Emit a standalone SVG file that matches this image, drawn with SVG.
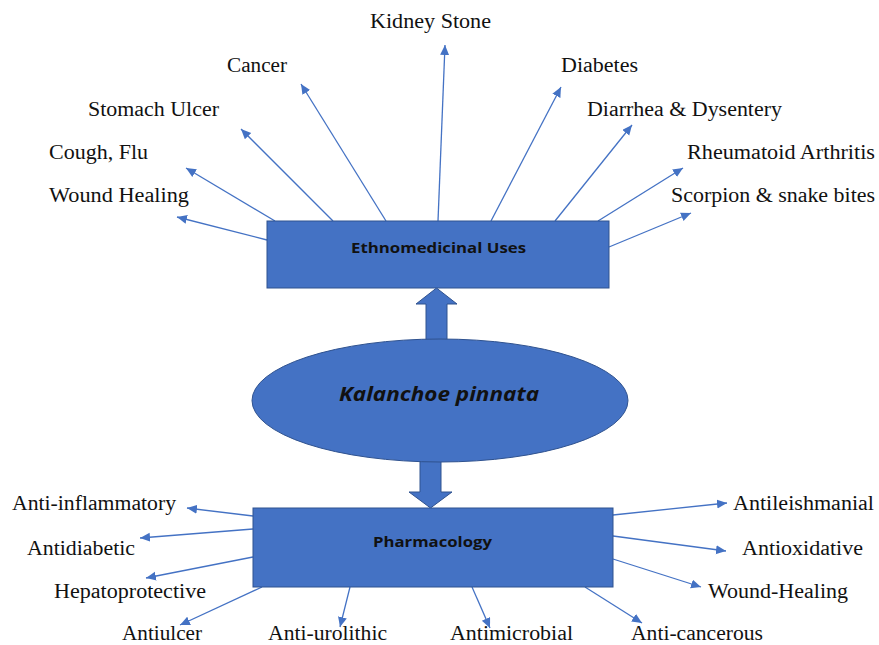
<svg xmlns="http://www.w3.org/2000/svg" width="879" height="645" viewBox="0 0 879 645">
<style>
.box{fill:#4472C4;stroke:#2F528F;stroke-width:1}
.lbl{font-family:"Liberation Serif","Times New Roman",serif;font-size:20px;fill:#111}
.ttl{font-family:"Open Sans","Liberation Sans",sans-serif;font-weight:bold;font-size:15px;fill:#111}
.con line{stroke:#4472C4;stroke-width:1.3;marker-end:url(#ah)}
</style>
<defs>
<marker id="ah" markerUnits="userSpaceOnUse" markerWidth="12" markerHeight="10" refX="10" refY="4.5" orient="auto">
<path d="M0,0 L10,4.5 L0,9 Z" fill="#4472C4"/>
</marker>
</defs>
<rect width="879" height="645" fill="#fff"/>
<g class="con" id="connectors">
<line x1="267" y1="240" x2="177" y2="217"/>
<line x1="275" y1="221" x2="186" y2="168"/>
<line x1="333" y1="221" x2="241" y2="129"/>
<line x1="386" y1="221" x2="301" y2="84"/>
<line x1="438" y1="221" x2="445" y2="45"/>
<line x1="491" y1="221" x2="561" y2="87"/>
<line x1="555" y1="221" x2="632" y2="125"/>
<line x1="598" y1="221" x2="683" y2="168"/>
<line x1="609" y1="247" x2="691" y2="213"/>
<line x1="253" y1="516" x2="187" y2="508"/>
<line x1="253" y1="529" x2="140" y2="538"/>
<line x1="253" y1="557" x2="146" y2="578"/>
<line x1="262" y1="587" x2="180" y2="625"/>
<line x1="350" y1="587" x2="340" y2="627"/>
<line x1="472" y1="587" x2="490" y2="628"/>
<line x1="585" y1="587" x2="642" y2="623"/>
<line x1="613" y1="515" x2="727" y2="503"/>
<line x1="613" y1="536" x2="726" y2="551"/>
<line x1="613" y1="559" x2="701" y2="587"/>
</g>
<g id="up-arrow">
<polygon class="box" points="436.5,288 457,304 447,304 447,341 426,341 426,304 416,304"/>
</g>
<g id="down-arrow">
<polygon class="box" points="420,461 441,461 441,492 452,492 430.5,508 409,492 420,492"/>
</g>
<g id="ethnomedicinal">
<rect class="box" x="267" y="221" width="342" height="67"/>
<text class="ttl" x="438.5" y="253" text-anchor="middle" textLength="175" lengthAdjust="spacingAndGlyphs">Ethnomedicinal Uses</text>
</g>
<g id="kalanchoe">
<ellipse class="box" cx="440" cy="400.5" rx="188" ry="61.5"/>
<text class="ttl" x="439" y="401" text-anchor="middle" font-style="italic" style="font-size:20px" textLength="200" lengthAdjust="spacingAndGlyphs">Kalanchoe pinnata</text>
</g>
<g id="pharmacology">
<rect class="box" x="253" y="508" width="360" height="79"/>
<text class="ttl" x="432.5" y="547" text-anchor="middle" textLength="119" lengthAdjust="spacingAndGlyphs">Pharmacology</text>
</g>
<g id="top-labels">
<text class="lbl" x="370" y="28" textLength="121" lengthAdjust="spacingAndGlyphs">Kidney Stone</text>
<text class="lbl" x="227" y="72" textLength="60" lengthAdjust="spacingAndGlyphs">Cancer</text>
<text class="lbl" x="88" y="116" textLength="131" lengthAdjust="spacingAndGlyphs">Stomach Ulcer</text>
<text class="lbl" x="49" y="159" textLength="99" lengthAdjust="spacingAndGlyphs">Cough, Flu</text>
<text class="lbl" x="49" y="202" textLength="140" lengthAdjust="spacingAndGlyphs">Wound Healing</text>
<text class="lbl" x="561" y="72" textLength="77" lengthAdjust="spacingAndGlyphs">Diabetes</text>
<text class="lbl" x="587" y="116" textLength="195" lengthAdjust="spacingAndGlyphs">Diarrhea &amp; Dysentery</text>
<text class="lbl" x="687" y="159" textLength="188" lengthAdjust="spacingAndGlyphs">Rheumatoid Arthritis</text>
<text class="lbl" x="671" y="202" textLength="204" lengthAdjust="spacingAndGlyphs">Scorpion &amp; snake bites</text>
</g>
<g id="bottom-labels">
<text class="lbl" x="12" y="510" textLength="164" lengthAdjust="spacingAndGlyphs">Anti-inflammatory</text>
<text class="lbl" x="27" y="555" textLength="108" lengthAdjust="spacingAndGlyphs">Antidiabetic</text>
<text class="lbl" x="54" y="598" textLength="152" lengthAdjust="spacingAndGlyphs">Hepatoprotective</text>
<text class="lbl" x="122" y="640" textLength="80" lengthAdjust="spacingAndGlyphs">Antiulcer</text>
<text class="lbl" x="268" y="640" textLength="119" lengthAdjust="spacingAndGlyphs">Anti-urolithic</text>
<text class="lbl" x="450" y="640" textLength="123" lengthAdjust="spacingAndGlyphs">Antimicrobial</text>
<text class="lbl" x="631" y="640" textLength="132" lengthAdjust="spacingAndGlyphs">Anti-cancerous</text>
<text class="lbl" x="733" y="510" textLength="141" lengthAdjust="spacingAndGlyphs">Antileishmanial</text>
<text class="lbl" x="742" y="555" textLength="121" lengthAdjust="spacingAndGlyphs">Antioxidative</text>
<text class="lbl" x="708" y="598" textLength="140" lengthAdjust="spacingAndGlyphs">Wound-Healing</text>
</g>
</svg>
